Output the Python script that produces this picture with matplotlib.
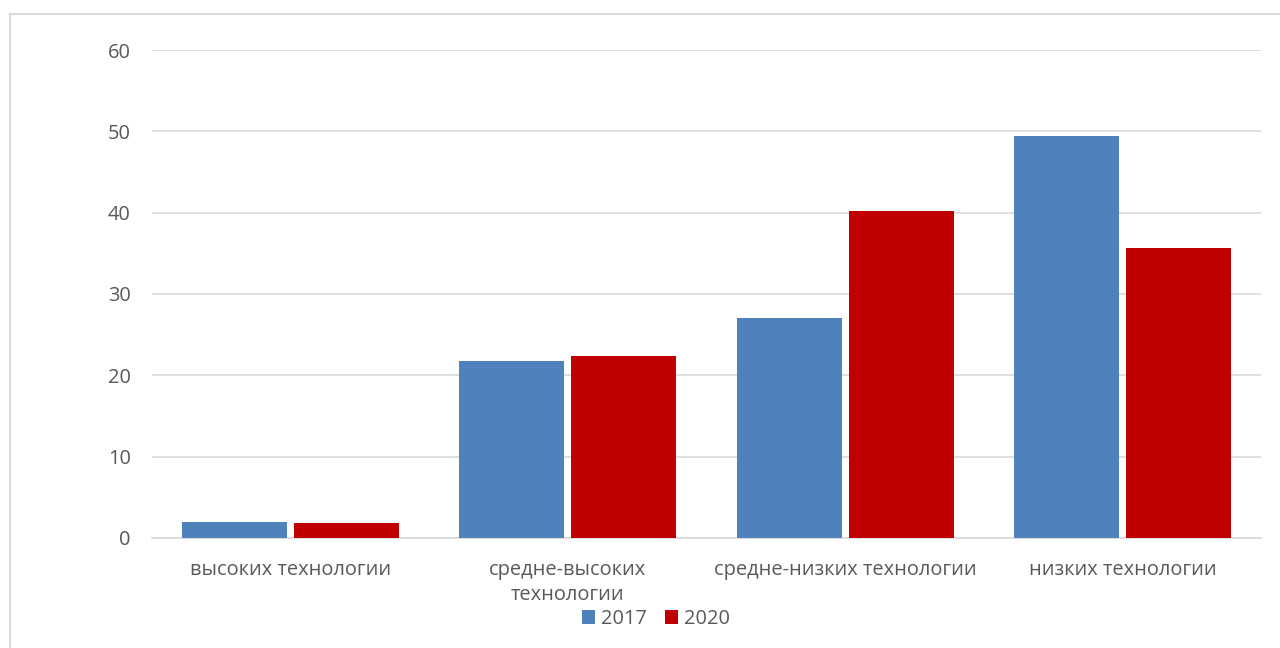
import matplotlib.pyplot as plt
import matplotlib.patches as mpatches
import numpy as np

categories = ["высоких технологии", "средне-высоких\nтехнологии",
              "средне-низких технологии", "низких технологии"]
years = ["2017", "2020"]
values_2017 = [2.0, 21.7, 27.0, 49.4]
values_2020 = [1.9, 22.4, 40.2, 35.6]
colors = ["#4F81BD", "#C00000"]

plt.rcParams["font.family"] = ["Open Sans", "DejaVu Sans"]

fig = plt.figure(figsize=(12.8, 6.48), dpi=100)
ax = fig.add_axes([0.1186, 0.1698, 0.8666, 0.753])

x = np.arange(len(categories))
w = 0.379
ax.bar(x - 0.202, values_2017, w, color=colors[0], label=years[0], zorder=3)
ax.bar(x + 0.202, values_2020, w, color=colors[1], label=years[1], zorder=3)

ax.set_ylim(0, 60)
ax.set_xlim(-0.5, 3.5)
ax.set_yticks(range(0, 61, 10))
ax.set_xticks(x)
ax.set_xticklabels(categories, linespacing=1.3)
ax.grid(axis="y", color="#D9D9D9", linewidth=1.2, zorder=0)
for s in ["top", "right", "left"]:
    ax.spines[s].set_visible(False)
ax.spines["bottom"].set_color("#D9D9D9")
ax.spines["bottom"].set_linewidth(1.2)
ax.tick_params(axis="both", length=0, labelsize=14.4, colors="#595959")
ax.tick_params(axis="y", pad=15)
ax.tick_params(axis="x", pad=16)

ax.legend(loc="center", bbox_to_anchor=(656 / 1280, 1 - 619 / 648),
          bbox_transform=fig.transFigure, ncol=2, frameon=False,
          fontsize=14.4, handlelength=0.65, handleheight=0.65, handletextpad=0.3,
          columnspacing=0.9, labelcolor="#595959", borderaxespad=0)

border = mpatches.Rectangle((0.008, -0.05), 1.2, 1.028, transform=fig.transFigure,
                            fill=False, edgecolor="#D9D9D9", linewidth=1.5)
fig.patches.append(border)

fig.savefig("out.png", dpi=100)
